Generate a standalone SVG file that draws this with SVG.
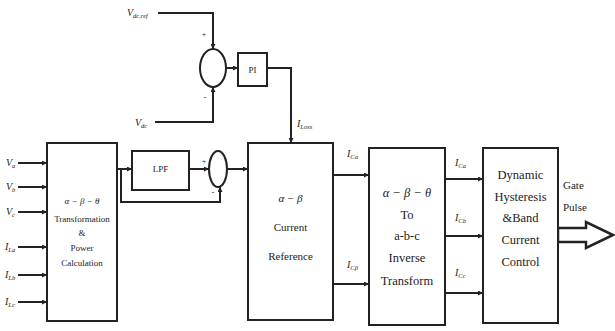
<svg xmlns="http://www.w3.org/2000/svg" width="615" height="331" viewBox="0 0 615 331">
<style>
  .blk { fill: #fff; stroke: #222; stroke-width: 2; }
  .sum { fill: #fff; stroke: #222; stroke-width: 2; }
  .wire { fill: none; stroke: #222; stroke-width: 2; }
  text { font-family: "Liberation Serif", "Times New Roman", serif; fill: #222; }
  .t1 { font-size: 9px; text-anchor: middle; }
  .t2 { font-size: 11px; text-anchor: middle; }
  .t3 { font-size: 12.5px; text-anchor: middle; }
  .lbl { font-size: 10px; font-style: italic; }
  .sub { font-size: 6.5px; }
  .sign { font-size: 8px; text-anchor: middle; }
  .g { font-style: italic; }
</style>
<defs>
  <marker id="ah" viewBox="0 0 10 10" refX="10" refY="5" markerWidth="5" markerHeight="5" markerUnits="userSpaceOnUse" orient="auto">
    <path d="M0,0 L10,5 L0,10 z" fill="#222"/>
  </marker>
</defs>

<g id="connectors">
  <line class="wire" x1="18" y1="163" x2="47" y2="163" marker-end="url(#ah)"/>
  <line class="wire" x1="18" y1="187" x2="47" y2="187" marker-end="url(#ah)"/>
  <line class="wire" x1="18" y1="212" x2="47" y2="212" marker-end="url(#ah)"/>
  <line class="wire" x1="18" y1="247" x2="47" y2="247" marker-end="url(#ah)"/>
  <line class="wire" x1="18" y1="275" x2="47" y2="275" marker-end="url(#ah)"/>
  <line class="wire" x1="18" y1="302" x2="47" y2="302" marker-end="url(#ah)"/>
  <line class="wire" x1="117" y1="169" x2="132" y2="169" marker-end="url(#ah)"/>
  <polyline class="wire" points="121,169 121,202 220,202 220,187" marker-end="url(#ah)"/>
  <line class="wire" x1="189" y1="169" x2="209" y2="169" marker-end="url(#ah)"/>
  <line class="wire" x1="227" y1="169" x2="248" y2="169" marker-end="url(#ah)"/>
  <polyline class="wire" points="158,13 213,13 213,49" marker-end="url(#ah)"/>
  <polyline class="wire" points="155,122 213,122 213,87" marker-end="url(#ah)"/>
  <line class="wire" x1="226" y1="68" x2="238" y2="68" marker-end="url(#ah)"/>
  <polyline class="wire" points="267,68 291,68 291,143" marker-end="url(#ah)"/>
  <line class="wire" x1="333" y1="175" x2="369" y2="175" marker-end="url(#ah)"/>
  <line class="wire" x1="333" y1="284" x2="369" y2="284" marker-end="url(#ah)"/>
  <line class="wire" x1="445" y1="179" x2="483" y2="179" marker-end="url(#ah)"/>
  <line class="wire" x1="445" y1="236" x2="483" y2="236" marker-end="url(#ah)"/>
  <line class="wire" x1="445" y1="293" x2="483" y2="293" marker-end="url(#ah)"/>
  <polygon points="558,228 586,228 586,222 613,235 586,248 586,242 558,242" fill="#fff" stroke="#222" stroke-width="2.5" stroke-linejoin="miter"/>
</g>

<g id="labels">
  <text class="lbl" x="6" y="166">V<tspan class="sub" dy="2">a</tspan></text>
  <text class="lbl" x="6" y="190">V<tspan class="sub" dy="2">b</tspan></text>
  <text class="lbl" x="6" y="215">V<tspan class="sub" dy="2">c</tspan></text>
  <text class="lbl" x="5" y="250">I<tspan class="sub" dy="2">La</tspan></text>
  <text class="lbl" x="5" y="278">I<tspan class="sub" dy="2">Lb</tspan></text>
  <text class="lbl" x="5" y="305">I<tspan class="sub" dy="2">Lc</tspan></text>
  <text class="lbl" x="127" y="16">V<tspan class="sub" dy="2">dc,ref</tspan></text>
  <text class="lbl" x="135" y="126">V<tspan class="sub" dy="2">dc</tspan></text>
  <text class="lbl" x="297" y="127">I<tspan class="sub" dy="2">Loss</tspan></text>
  <text class="lbl" x="347" y="157">I<tspan class="sub" dy="2">Cα</tspan></text>
  <text class="lbl" x="347" y="268">I<tspan class="sub" dy="2">Cβ</tspan></text>
  <text class="lbl" x="455" y="166">I<tspan class="sub" dy="2">Ca</tspan></text>
  <text class="lbl" x="455" y="221">I<tspan class="sub" dy="2">Cb</tspan></text>
  <text class="lbl" x="455" y="276">I<tspan class="sub" dy="2">Cc</tspan></text>
  <text x="563" y="189" style="font-size:11px">Gate</text>
  <text x="563" y="211" style="font-size:11px">Pulse</text>
  <text class="sign" x="204" y="37">+</text>
  <text class="sign" x="205" y="100">-</text>
  <text class="sign" x="204" y="164">+</text>
  <text class="sign" x="213" y="195">-</text>
</g>

<g id="transform-block">
  <rect class="blk" x="47" y="143" width="70" height="178"/>
  <text class="t1 g" x="82" y="204">α − β − θ</text>
  <text class="t1" x="82" y="222">Transformation</text>
  <text class="t1" x="82" y="236">&amp;</text>
  <text class="t1" x="82" y="251">Power</text>
  <text class="t1" x="82" y="266">Calculation</text>
</g>

<g id="lpf">
  <rect class="blk" x="132" y="151" width="57" height="39"/>
  <text class="t1" x="160.5" y="172">LPF</text>
</g>

<g id="sum2">
  <ellipse class="sum" cx="218" cy="169" rx="9" ry="18"/>
</g>

<g id="sum1">
  <ellipse class="sum" cx="213" cy="68" rx="13" ry="19"/>
</g>

<g id="pi">
  <rect class="blk" x="238" y="53" width="29" height="33"/>
  <text class="t1" x="252.5" y="73">PI</text>
</g>

<g id="current-reference">
  <rect class="blk" x="248" y="143" width="85" height="177"/>
  <text class="t2 g" x="290.5" y="202">α − β</text>
  <text class="t2" x="290.5" y="231">Current</text>
  <text class="t2" x="290.5" y="260">Reference</text>
</g>

<g id="inverse-transform">
  <rect class="blk" x="369" y="148" width="76" height="177"/>
  <text class="t3 g" x="407" y="197">α − β − θ</text>
  <text class="t3" x="407" y="219">To</text>
  <text class="t3" x="407" y="240">a-b-c</text>
  <text class="t3" x="407" y="262">Inverse</text>
  <text class="t3" x="407" y="285">Transform</text>
</g>

<g id="hysteresis-control">
  <rect class="blk" x="483" y="148" width="75" height="175"/>
  <text class="t3" x="520.5" y="179">Dynamic</text>
  <text class="t3" x="520.5" y="201">Hysteresis</text>
  <text class="t3" x="520.5" y="222">&amp;Band</text>
  <text class="t3" x="520.5" y="244">Current</text>
  <text class="t3" x="520.5" y="266">Control</text>
</g>
</svg>
